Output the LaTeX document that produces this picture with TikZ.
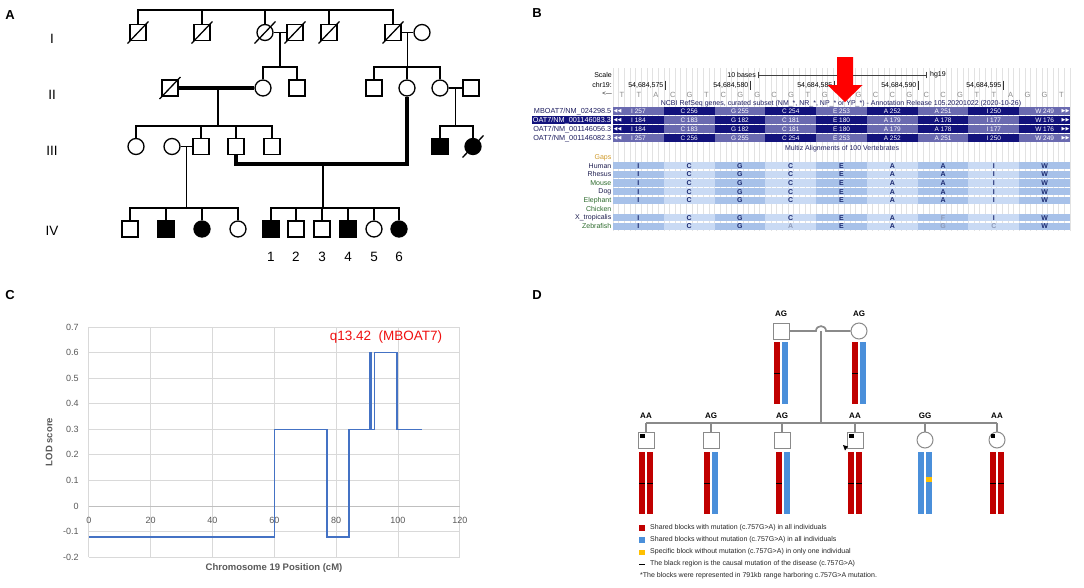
\documentclass[tikz,border=0pt]{standalone}
\usepackage{fontspec}
\setmainfont{Liberation Sans}
\newfontfamily\djv{DejaVu Sans}
\usetikzlibrary{calc}
\definecolor{ucsdark}{HTML}{12127C}
\definecolor{ucsmed}{HTML}{6A6AB0}
\definecolor{alnA}{HTML}{A7C1E9}
\definecolor{alnB}{HTML}{C9DAF4}
\definecolor{alntext}{HTML}{1C2A70}
\definecolor{alngrey}{HTML}{8E9AB8}
\definecolor{spgreen}{HTML}{2E6B2E}
\definecolor{spdark}{HTML}{1E1E50}
\definecolor{gapgold}{HTML}{D09A2A}
\definecolor{ncbitext}{HTML}{1E1E60}
\definecolor{basegrey}{HTML}{8C8C8C}
\definecolor{trackgrid}{HTML}{E2E2E2}
\definecolor{lodblue}{HTML}{4472C4}
\definecolor{gridgrey}{HTML}{D9D9D9}
\definecolor{zerogrey}{HTML}{BFBFBF}
\definecolor{axgrey}{HTML}{595959}
\definecolor{chrred}{HTML}{C00000}
\definecolor{chrblue}{HTML}{4A8FDA}
\definecolor{chryel}{HTML}{FFC000}
\definecolor{pedgrey}{HTML}{8A8A8A}
\definecolor{lodred}{HTML}{F01010}
\newcommand\fsz[1]{\fontsize{#1}{#1}\selectfont}
\newcommand\generow[3]{%
  \foreach \t [count=\j from 0] in {#3} {%
    \pgfmathsetmacro\xa{613+\j*50.78}%
    \pgfmathsetmacro\xc{613+(\j+0.5)*50.78}%
    \pgfmathtruncatemacro\pp{mod(\j+#2,2)}%
    \ifnum\pp=0 \def\cc{ucsmed}\else\def\cc{ucsdark}\fi
    \fill[fill=\cc] (\xa,#1) rectangle ++(50.78,8);
    \node[celltext] (g#1x\j) at (\xc,#1+4.2) {\t};
  }%
  \node[celltext,font=\djv\fsz{5}] (gl#1) at (617.5,#1+4.2) {◀◀};
  \node[celltext,font=\djv\fsz{5}] (gr#1) at (1065.5,#1+4.2) {▶▶};
}
\newcommand\alnrow[2]{%
  \foreach \t/\g [count=\j from 0] in {#2} {%
    \pgfmathsetmacro\xa{613+\j*50.78}%
    \pgfmathsetmacro\xc{613+(\j+0.5)*50.78}%
    \pgfmathtruncatemacro\pp{mod(\j,2)}%
    \ifnum\pp=0 \def\cc{alnA}\else\def\cc{alnB}\fi
    \ifnum\g=1 \def\tc{alngrey}\else\def\tc{alntext}\fi
    \fill[fill=\cc] (\xa,#1-3.7) rectangle ++(50.78,7.4);
    \node[alnfont,text=\tc] (a#1x\j) at (\xc,#1) {\t};
  }%
}
\begin{document}
\begin{tikzpicture}[x=1pt,y=-1pt,
  panlab/.style={font=\fsz{13}\bfseries},
  genlab/.style={font=\fsz{13.5}},
  male/.style={draw,rectangle,minimum size=16pt,inner sep=0pt,line width=1.3pt,fill=white},
  female/.style={draw,circle,minimum size=16pt,inner sep=0pt,line width=1.3pt,fill=white},
  aff/.style={fill=black},
  pline/.style={line width=1.3pt},
  cline/.style={line width=3.4pt,line join=miter},
  small7/.style={font=\fsz{7},inner sep=0pt},
  celltext/.style={text=white,font=\fsz{6.5},inner sep=0pt},
  alnfont/.style={font=\fsz{7}\bfseries,inner sep=0pt},
  sptext/.style={font=\fsz{7},inner sep=0pt,anchor=east},
  tick/.style={font=\fsz{9},text=axgrey,inner sep=0pt},
  dmale/.style={draw=pedgrey,rectangle,minimum size=16pt,inner sep=0pt,line width=1pt,fill=white},
  dfemale/.style={draw=pedgrey,circle,minimum size=16pt,inner sep=0pt,line width=1pt,fill=white},
  dline/.style={draw=pedgrey,line width=1.1pt},
  gtlab/.style={font=\fsz{8}\bfseries,inner sep=0pt},
  legtext/.style={font=\fsz{7},inner sep=0pt,anchor=west,text=black!85}
]
\fill[white] (0,0) rectangle (1084,587);
\useasboundingbox (0,0) rectangle (1084,587);

%================ Panel A ================
\node[panlab] (labA) at (10,15) {A};
\node[genlab] (gI) at (52,39) {I};
\node[genlab] (gII) at (52,95) {II};
\node[genlab] (gIII) at (52,151) {III};
\node[genlab] (gIV) at (52,231) {IV};

\coordinate (s0) at (0,10);
\coordinate (s1) at (0,67);
\coordinate (s2) at (0,126);
\coordinate (s3) at (0,208);
\coordinate (s4) at (0,164);

\node[male] (I1) at (138,32.5) {};
\node[male] (I2) at (202,32.5) {};
\node[female] (I3) at (265,32.5) {};
\node[male] (I4) at (295,32.5) {};
\node[male] (I5) at (329,32.5) {};
\node[male] (I6) at (393,32.5) {};
\node[female] (I7) at (422,32.5) {};
\draw[pline] (I1.north) |- (s0 -| I6.north) -- (I6.north);
\foreach \n in {I2,I3,I5} \draw[pline] (\n.north) -- (\n.north |- s0);
\draw[pline] (I3.east) -- (I4.west);
\draw[pline] (I6.east) -- (I7.west);
\coordinate (m1) at ($(I3.east)!0.5!(I4.west)$);
\coordinate (m2) at ($(I6.east)!0.5!(I7.west)$);
\draw[pline] (m1) -- (m1 |- s1);
\draw[pline] (m2) -- (m2 |- s1);

\node[male] (II1) at (170,88) {};
\node[female] (II2) at (263,88) {};
\node[male] (II3) at (297,88) {};
\node[male] (II4) at (374,88) {};
\node[female] (II5) at (407,88) {};
\node[female] (II6) at (440,88) {};
\node[male] (II7) at (471,88) {};
\draw[pline] (II2.north) |- (s1 -| II3.north) -- (II3.north);
\draw[pline] (II4.north) |- (s1 -| II6.north) -- (II6.north);
\draw[pline] (II5.north) -- (II5.north |- s1);
\draw[cline] (II1.east) -- (II2.west);
\draw[pline] (II6.east) -- (II7.west);
\coordinate (m3) at ($(II1.east)!0.52!(II2.west)$);
\coordinate (m4) at ($(II6.east)!0.5!(II7.west)$);
\draw[pline] (m3) -- (m3 |- s2);
\draw[pline] (m4) -- (m4 |- s2);

\node[female] (III1) at (136,146.5) {};
\node[female] (III2) at (172,146.5) {};
\node[male] (III3) at (201,146.5) {};
\node[male] (III4) at (236,146.5) {};
\node[male] (III5) at (272,146.5) {};
\node[male,aff] (III6) at (440,146.5) {};
\node[female,aff] (III7) at (473,146.5) {};
\draw[pline] (III1.north) |- (s2 -| III5.north) -- (III5.north);
\foreach \n in {III3,III4} \draw[pline] (\n.north) -- (\n.north |- s2);
\draw[pline] (III6.north) |- (s2 -| III7.north) -- (III7.north);
\draw[pline] (III2.east) -- (III3.west);
\coordinate (m5) at ($(III2.east)!0.5!(III3.west)$);
\draw[pline] (m5) -- (m5 |- s3);
\draw[cline] (III4.south) |- (s4 -| II5.south) -- (II5.south);
\coordinate (m6) at (323,164);
\draw[pline] (m6) -- (m6 |- s3);

\node[male] (IV1) at (130,229) {};
\node[male,aff] (IV2) at (166,229) {};
\node[female,aff] (IV3) at (202,229) {};
\node[female] (IV4) at (238,229) {};
\node[male,aff] (IV5) at (271,229) {};
\node[male] (IV6) at (296,229) {};
\node[male] (IV7) at (322,229) {};
\node[male,aff] (IV8) at (348,229) {};
\node[female] (IV9) at (374,229) {};
\node[female,aff] (IV10) at (399,229) {};
\draw[pline] (IV1.north) |- (s3 -| IV4.north) -- (IV4.north);
\foreach \n in {IV2,IV3} \draw[pline] (\n.north) -- (\n.north |- s3);
\draw[pline] (IV5.north) |- (s3 -| IV10.north) -- (IV10.north);
\foreach \n in {IV6,IV7,IV8,IV9} \draw[pline] (\n.north) -- (\n.north |- s3);
\foreach \n/\k in {IV5/1,IV6/2,IV7/3,IV8/4,IV9/5,IV10/6}
  \node[genlab] (num\k) at ($(\n.center)+(0,28)$) {\k};

\foreach \n in {I1,I2,I3,I4,I5,I6,II1,III7}
  \draw[pline] ($(\n.center)+(-10.5,11)$) -- ($(\n.center)+(10.5,-11)$);

%================ Panel B ================
\node[panlab] (labB) at (537,13) {B};
\foreach \i in {0,...,81} \draw[trackgrid,line width=0.5pt] ({613+\i*5.642},68) -- ({613+\i*5.642},231);

\node[small7,anchor=east] (scl) at (612,75) {Scale};
\node[small7,anchor=east] (chr) at (612,85) {chr19:};
\node[small7,anchor=east,font=\fsz{6}] (dir) at (612,94) {<---};
\node[small7,anchor=east] (tenb) at (756,75) {10 bases};
\node[small7,anchor=west] (hg) at (930,75) {hg19};
\draw[black!75,line width=0.7pt,|-|] ($(tenb.east)+(2,0)$) -- ($(hg.west)+(-3,0)$);
\foreach \p/\x in {575/665,580/750,585/834,590/918,595/1003} {
  \node[small7,anchor=east] (pos\p) at (\x-1.5,85) {54,684,\p};
  \draw[black!80,line width=0.6pt] (\x,80.5) -- (\x,89.5);
}
\foreach \k/\b in {0/T,1/T,2/A,3/C,4/G,5/T,6/C,7/G,8/G,9/C,10/G,11/T,12/G,14/G,15/C,16/C,17/G,18/C,19/C,20/G,21/T,22/T,23/A,24/G,25/G,26/T}
  \node[font=\fsz{7.5},text=basegrey,inner sep=0pt] (b\k) at ({622+\k*16.9},94.5) {\b};
\node[small7,text=ncbitext] (ncbi) at (841,104) {NCBI RefSeq genes, curated subset (NM\_*, NR\_*, NP\_* or YP\_*) - Annotation Release 105.20201022 (2020-10-26)};

\generow{107}{0}{I 257,C 256,G 255,C 254,E 253,A 252,A 251,I 250,W 249}
\generow{116}{1}{I 184,C 183,G 182,C 181,E 180,A 179,A 178,I 177,W 176}
\generow{125}{1}{I 184,C 183,G 182,C 181,E 180,A 179,A 178,I 177,W 176}
\generow{134}{0}{I 257,C 256,G 255,C 254,E 253,A 252,A 251,I 250,W 249}

\node[small7,anchor=east,font=\fsz{7.3},text=ncbitext] (r1) at (611.5,111.2) {MBOAT7/NM\_024298.5};
\node[small7,anchor=east,font=\fsz{7.3},text=white,fill=ucsdark,inner sep=0.4pt] (r2) at (611.5,120.2) {OAT7/NM\_001146083.3};
\node[small7,anchor=east,font=\fsz{7.3},text=ncbitext] (r3) at (611.5,129.2) {OAT7/NM\_001146056.3};
\node[small7,anchor=east,font=\fsz{7.3},text=ncbitext] (r4) at (611.5,138.2) {OAT7/NM\_001146082.3};

\node[small7,text=ncbitext] (multiz) at (842,149) {Multiz Alignments of 100 Vertebrates};
\foreach \nm/\yy/\cl [count=\k] in {Gaps/157.3/gapgold,Human/165.7/spdark,Rhesus/174.3/spdark,Mouse/183/spgreen,Dog/191.7/spdark,Elephant/200.3/spgreen,Chicken/209/spgreen,X\_tropicalis/217.7/spdark,Zebrafish/226.3/spgreen}
  \node[sptext,text=\cl] (sp\k) at (611.5,\yy) {\nm};
\alnrow{165.7}{I/0,C/0,G/0,C/0,E/0,A/0,A/0,I/0,W/0}
\alnrow{174.3}{I/0,C/0,G/0,C/0,E/0,A/0,A/0,I/0,W/0}
\alnrow{183}{I/0,C/0,G/0,C/0,E/0,A/0,A/0,I/0,W/0}
\alnrow{191.7}{I/0,C/0,G/0,C/0,E/0,A/0,A/0,I/0,W/0}
\alnrow{200.3}{I/0,C/0,G/0,C/0,E/0,A/0,A/0,I/0,W/0}
\alnrow{217.7}{I/0,C/0,G/0,C/0,E/0,A/0,F/1,I/0,W/0}
\alnrow{226.3}{I/0,C/0,G/0,A/1,E/0,A/0,G/1,C/1,W/0}

\fill[red] (837,57) -- (853,57) -- (853,85) -- (862.5,85) -- (845,102) -- (827.5,85) -- (837,85) -- cycle;

%================ Panel C ================
\node[panlab] (labC) at (10,295) {C};
\begin{scope}[shift={(88.8,506)},x=3.0917pt,y=255.6pt]
  \foreach \c in {0,20,...,120} \draw[gridgrey,line width=0.8pt] (\c,-0.2) -- (\c,0.7);
  \foreach \v in {0.7,0.6,0.5,0.4,0.3,0.2,0.1,-0.1,-0.2} \draw[gridgrey,line width=0.8pt] (0,\v) -- (120,\v);
  \draw[zerogrey,line width=0.9pt] (0,0) -- (120,0);
  \foreach \v [count=\k] in {0.7,0.6,0.5,0.4,0.3,0.2,0.1,0,-0.1,-0.2}
    \node[tick,anchor=east] (yt\k) at (-3.2,\v) {\v};
  \foreach \c [count=\k] in {0,20,40,60,80,100,120}
    \node[tick] (xt\k) at (\c,-0.056) {\c};
  \draw[lodblue,line width=1.5pt,line join=miter] (0,-0.122) -- (60,-0.122) -- (60,0.3) -- (77.1,0.3) -- (77.1,-0.122) -- (84.1,-0.122) -- (84.1,0.3) -- (91,0.3) -- (91,0.6) -- (91.4,0.6) -- (91.4,0.3) -- (92.4,0.3) -- (92.4,0.6) -- (99.7,0.6) -- (99.7,0.3) -- (107.7,0.3);
\end{scope}
\node[font=\fsz{9.5}\bfseries,text=axgrey,rotate=90] (lodlab) at (49,442) {LOD score};
\node[font=\fsz{9.5}\bfseries,text=axgrey] (xlab) at (274,568) {Chromosome 19 Position (cM)};
\node[font=\fsz{13.5},text=lodred] (qlab) at (386,337) {q13.42\ \ (MBOAT7)};

%================ Panel D ================
\node[panlab] (labD) at (537,295) {D};
\node[dmale] (F) at (781,331) {};
\node[dfemale] (M) at (859,331) {};
\node[gtlab] (gtF) at (781,314) {AG};
\node[gtlab] (gtM) at (859,314) {AG};
\coordinate (hopL) at (816,331);
\coordinate (hopR) at (826,331);
\coordinate (hopC) at (821,331);
\coordinate (dsib) at (0,423);
\draw[dline,line width=1.7pt] (F.east) -- (hopL) .. controls +(0,-6.5) and +(0,-6.5) .. (hopR) -- (M.west);
\draw[dline] (hopC) -- (hopC |- dsib);
\foreach \n/\x/\s/\g in {1/646/dmale/AA,2/711/dmale/AG,3/782/dmale/AG,4/855/dmale/AA,5/925/dfemale/GG,6/997/dfemale/AA} {
  \node[\s] (ch\n) at (\x,440) {};
  \node[gtlab] (gt\n) at (\x,416) {\g};
}
\draw[dline] (ch1.north |- dsib) -- (ch6.north |- dsib);
\foreach \n in {1,...,6} \draw[dline] (ch\n.north) -- (ch\n.north |- dsib);
% markers
\fill[black] (640,433.5) rectangle (644.5,438);
\fill[black] (849,433.5) rectangle (853.5,438);
\fill[black] (990.5,433.5) rectangle (995,438);
\fill[black] (843,445) -- (848,446.5) -- (845,450.5) -- cycle;

% chromosome bars: parents
\fill[chrred] (774,342) rectangle (780,404);
\fill[chrblue] (782,342) rectangle (788,404);
\fill[chrred] (852,342) rectangle (858,404);
\fill[chrblue] (860,342) rectangle (866,404);
\foreach \x in {774,852} \draw[black,line width=0.7pt] (\x,373) -- (\x+6,373);
% children
\foreach \x/\c in {639/chrred,647/chrred,704/chrred,712/chrblue,776/chrred,784/chrblue,848/chrred,856/chrred,918/chrblue,926/chrblue,990/chrred,998/chrred}
  \fill[fill=\c] (\x,452) rectangle (\x+6,514);
\fill[chryel] (926,477) rectangle (932,482);
\foreach \x in {639,647,704,776,848,856,990,998} \draw[black,line width=0.7pt] (\x,483) -- (\x+6,483);

% legend
\fill[chrred] (639,525) rectangle (644.5,530.5);
\fill[chrblue] (639,537) rectangle (644.5,542.5);
\fill[chryel] (639,549.5) rectangle (644.5,555);
\draw[black,line width=0.9pt] (639,564) -- (644.5,564);
\node[legtext] (lg1) at (650,527.5) {Shared blocks with mutation (c.757G>A) in all individuals};
\node[legtext] (lg2) at (650,539.5) {Shared blocks without mutation (c.757G>A) in all individuals};
\node[legtext] (lg3) at (650,552) {Specific block without mutation (c.757G>A) in only one individual};
\node[legtext] (lg4) at (650,564) {The black region is the causal mutation of the disease (c.757G>A)};
\node[legtext] (lg5) at (640,576) {*The blocks were represented in 791kb range harboring c.757G>A mutation.};
\end{tikzpicture}
\end{document}
